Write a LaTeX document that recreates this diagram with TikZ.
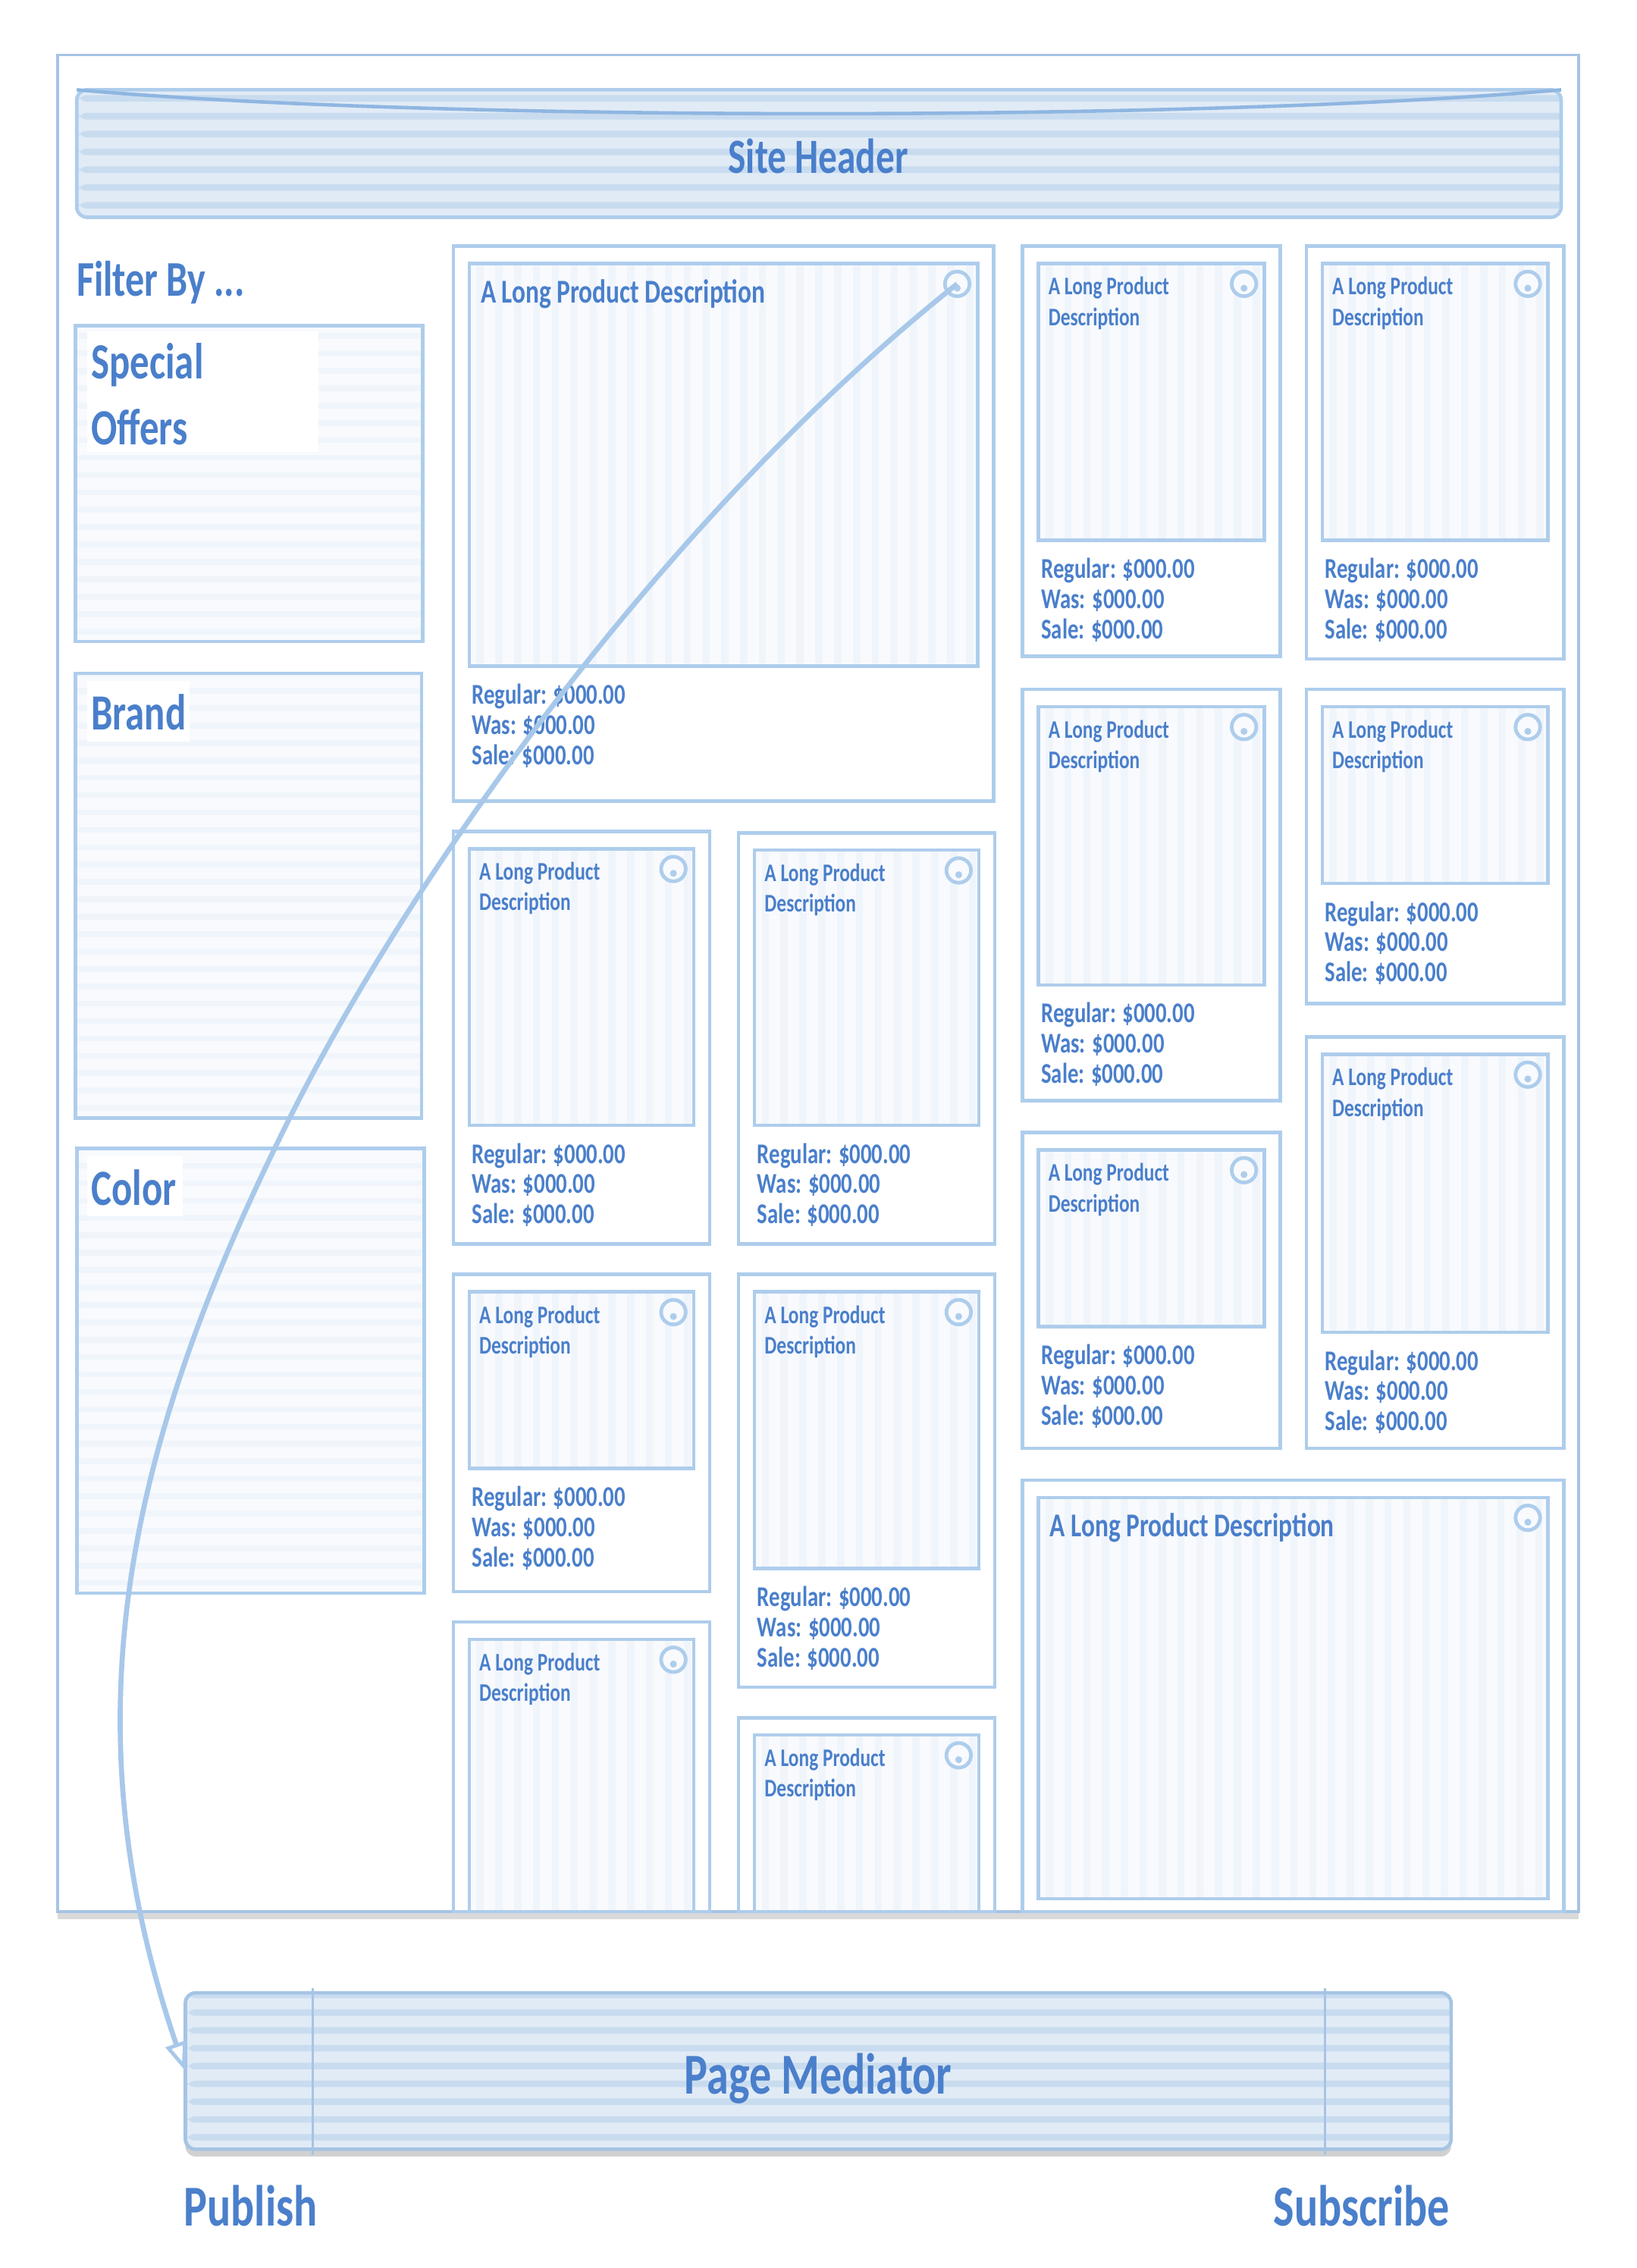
\documentclass[tikz,border=0pt]{standalone}
\usepackage{fontspec}
\setmainfont{Carlito}[FakeStretch=0.76]
\usetikzlibrary{arrows.meta,shadows}
\definecolor{lineblue}{HTML}{AECDEC}
\definecolor{frameline}{HTML}{A6C4E4}
\definecolor{textblue}{HTML}{4A7FCB}
\definecolor{hdrfill}{HTML}{E1EBF6}
\definecolor{hdrstripe}{HTML}{C9DCEF}
\definecolor{hdrcurvec}{HTML}{8FB6E1}
\definecolor{imgfill}{HTML}{F8FAFD}
\definecolor{imgstripe}{HTML}{F0F5FB}
\definecolor{curveblue}{HTML}{A8C8EA}
\tikzset{
  vstripes/.style={path picture={\foreach \i in {0,...,30}{\fill[imgstripe] ([xshift=\i*13pt+5pt]path picture bounding box.south west) rectangle ++(5pt,2000pt);}}},
  hstripes/.style={path picture={\foreach \i in {0,...,30}{\fill[imgstripe] ([yshift=\i*12pt+5pt]path picture bounding box.south west) rectangle ++(2000pt,4pt);}}},
  hdrstripes/.style={path picture={\foreach \i in {0,...,12}{\fill[hdrstripe] ([yshift=\i*12.3pt+6pt]path picture bounding box.south west) rectangle ++(2000pt,4.5pt);}}},
  framebox/.style={draw=frameline, line width=2pt, fill=white, drop shadow={shadow xshift=0pt, shadow yshift=-5pt, opacity=0.15, fill=black}},
  hdrbox/.style={draw=lineblue, line width=2.4pt, fill=hdrfill, rounded corners=7pt, hdrstripes},
  pmbox/.style={draw=frameline, line width=2.4pt, fill=hdrfill, rounded corners=7pt, hdrstripes, drop shadow={shadow xshift=0pt, shadow yshift=-5pt, opacity=0.18, fill=black}},
  filterbox/.style={draw=lineblue, line width=2.4pt, fill=imgfill, hstripes},
  labelbox/.style={fill=white},
  cardbox/.style={draw=lineblue, line width=2.4pt, fill=white},
  imgbox/.style={draw=lineblue, line width=2.4pt, fill=imgfill, vstripes},
  dotring/.style={circle, draw=lineblue, line width=2.5pt, minimum size=17pt, inner sep=0pt, fill=imgfill},
  txt/.style={text=textblue, inner sep=0pt, outer sep=0pt},
  hdrtxt/.style={txt, font=\fontsize{34}{40}\selectfont\bfseries},
  bigtxt/.style={txt, font=\fontsize{40}{46}\selectfont\bfseries},
  filtertxt/.style={txt, font=\fontsize{34.5}{40}\selectfont\bfseries},
  cattxt/.style={txt, font=\fontsize{35}{42}\selectfont\bfseries},
  bigttl/.style={txt, font=\fontsize{23}{27}\selectfont\bfseries},
  ttl/.style={txt, font=\fontsize{17.5}{21}\selectfont\bfseries},
  price/.style={txt, font=\fontsize{19.8}{22}\selectfont\bfseries},
  flow/.style={draw=curveblue, line width=3.5pt, -{Triangle[open, length=20pt, width=15pt, line width=2.5pt]}},
  pmdiv/.style={draw=frameline, line width=1.2pt},
  hdrcurve/.style={draw=hdrcurvec, line width=2.4pt}
}
\newcommand\bx[6]{\node[#2, anchor=north west, inner sep=0pt, outer sep=0pt, minimum width={((#5)-(#3))*1pt}, minimum height={((#6)-(#4))*1pt}] (#1) at ({#3},{#4}) {};}
\newcommand\cardframe[6]{%
  \bx{#1}{cardbox}{#2}{#3}{#4}{#5}
  \bx{#1i}{imgbox}{#2+11}{#3+12}{#4-11}{#6}
  \node[dotring] (#1o) at ({#4-25},{#3+26}) {};
  \fill[lineblue] ([yshift=-3pt]#1o.center) circle (2.4pt);
}
\newcommand\smalltitle[1]{%
  \node[ttl, anchor=west] (#1t1) at ([xshift=7pt,yshift=-17pt]#1i.north west) {A Long Product};
  \node[ttl, anchor=west] (#1t2) at ([xshift=7pt,yshift=-38pt]#1i.north west) {Description};
}
\newcommand\bigtitle[1]{%
  \node[bigttl, anchor=west] (#1t) at ([xshift=8pt,yshift=-21pt]#1i.north west) {A Long Product Description};
}
\newcommand\prices[1]{%
  \node[price, anchor=west] (#1p1) at ([xshift=2pt,yshift=-21pt]#1i.south west) {Regular: \$000.00};
  \node[price, anchor=west] (#1p2) at ([xshift=2pt,yshift=-41.5pt]#1i.south west) {Was: \$000.00};
  \node[price, anchor=west] (#1p3) at ([xshift=2pt,yshift=-62pt]#1i.south west) {Sale: \$000.00};
}
\begin{document}
\begin{tikzpicture}[x=1pt,y=-1pt]
\fill[white] (0,0) rectangle (1130,1566);
\useasboundingbox (0,0) rectangle (1130,1566);
% outer page frame
\bx{frame}{framebox}{40}{38}{1090}{1320}
% site header
\bx{hdr}{hdrbox}{53}{62}{1078}{150}
\draw[hdrcurve] (hdr.north west) .. controls (300,84) and (830,84) .. (hdr.north east);
\node[hdrtxt] (hdrt) at (565,108) {Site Header};
% filter sidebar
\node[filtertxt, anchor=west] (filter) at (53,195) {Filter By ...};
\bx{so}{filterbox}{52}{225}{292}{443}
\bx{solab}{labelbox}{60}{229}{220}{312}
\node[cattxt, anchor=west] (sot1) at (63,252) {Special};
\node[cattxt, anchor=west] (sot2) at (63,295) {Offers};
\bx{br}{filterbox}{52}{465}{291}{772}
\bx{brlab}{labelbox}{60}{470}{131}{512}
\node[cattxt, anchor=west] (brt) at (63,492) {Brand};
\bx{co}{filterbox}{53}{793}{293}{1100}
\bx{colab}{labelbox}{60}{798}{126}{840}
\node[cattxt, anchor=west] (cot) at (63,820) {Color};
% product cards
\cardframe{A}{313}{170}{686}{553}{460}\bigtitle{A}\prices{A}
\cardframe{ra}{706}{170}{884}{453}{373}\smalltitle{ra}\prices{ra}
\cardframe{rb}{706}{476}{884}{760}{680}\smalltitle{rb}\prices{rb}
\cardframe{rc}{706}{782}{884}{1000}{916}\smalltitle{rc}\prices{rc}
\cardframe{sa}{902}{170}{1080}{455}{373}\smalltitle{sa}\prices{sa}
\cardframe{sb}{902}{476}{1080}{693}{610}\smalltitle{sb}\prices{sb}
\cardframe{sc}{902}{716}{1080}{1000}{920}\smalltitle{sc}\prices{sc}
\cardframe{ma}{313}{574}{490}{859}{777}\smalltitle{ma}\prices{ma}
\cardframe{mb}{313}{880}{490}{1099}{1014}\smalltitle{mb}\prices{mb}
\cardframe{mc}{313}{1120}{490}{1320}{1320}\smalltitle{mc}
\cardframe{na}{510}{575}{687}{859}{777}\smalltitle{na}\prices{na}
\cardframe{nb}{510}{880}{687}{1165}{1083}\smalltitle{nb}\prices{nb}
\cardframe{nc}{510}{1186}{687}{1320}{1320}\smalltitle{nc}
\cardframe{B}{706}{1022}{1080}{1320}{1311}\bigtitle{B}
% page mediator
\bx{pm}{pmbox}{128}{1376}{1002}{1484}
\draw[pmdiv] ([xshift=88pt,yshift=3pt]pm.north west) -- ([xshift=88pt,yshift=-4pt]pm.south west);
\draw[pmdiv] ([xshift=-87pt,yshift=3pt]pm.north east) -- ([xshift=-87pt,yshift=-4pt]pm.south east);
\node[bigtxt] (pmt) at (565,1435) {Page Mediator};
\node[bigtxt, anchor=west] (pub) at (127,1523) {Publish};
\node[bigtxt, anchor=east] (sub) at (1001,1523) {Subscribe};
% publish connector
\coordinate (cmid) at (200,772);
\draw[flow] (Ao.center) .. controls (466,351) and (290,593) .. (cmid) .. controls (88,996) and (45,1187) .. (pm.west);
\end{tikzpicture}
\end{document}
